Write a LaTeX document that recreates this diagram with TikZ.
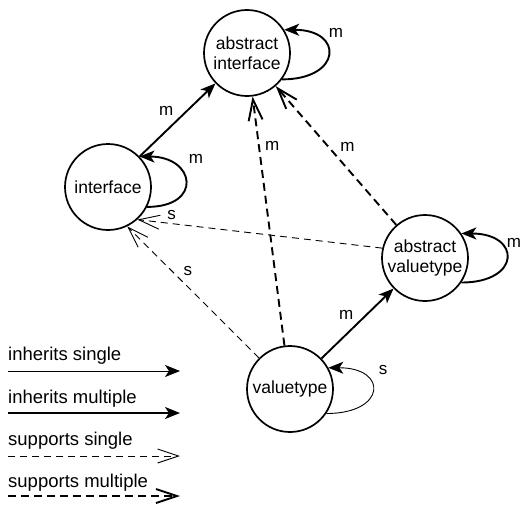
\documentclass[tikz,border=0pt]{standalone}
\usepackage{fontspec}
\setmainfont{Liberation Sans}
\usepackage{tikz}
\usetikzlibrary{arrows.meta}

\begin{document}
\begin{tikzpicture}[
 x=10pt, y=-10pt,
 kind/.style={draw, circle, line width=1.7pt, minimum size=86pt, inner sep=0pt,
 align=center, font=\fontsize{17.5}{20}\selectfont},
 lbl/.style={font=\fontsize{17}{18}\selectfont},
 leg/.style={anchor=base west, inner sep=0pt, font=\fontsize{18.5}{20}\selectfont},
 inhs/.style={-{Stealth[length=15pt, width=12pt, inset=4pt]}, line width=0.9pt},
 inhm/.style={-{Stealth[length=15pt, width=12pt, inset=4pt]}, line width=1.9pt},
 sups/.style={-{Straight Barb[length=21pt, width=14pt]}, line width=0.9pt,
 dash pattern=on 7pt off 5pt},
 supm/.style={-{Straight Barb[length=21pt, width=14pt]}, line width=1.9pt,
 dash pattern=on 8pt off 5pt}
]
\useasboundingbox (0,0) rectangle (52.1,50.7);

% Kinds
\node[kind] (ai) at (24.7,5.3) {abstract\\interface};
\node[kind] (itf) at (10.8,18.7) {interface};
\node[kind] (av) at (42.5,25.8) {abstract\\valuetype};
\node[kind] (vt) at (29.0,38.9) {valuetype};

% Self loops
\draw[inhm] (ai.-37) .. controls +(6,0) and +(6,0) .. (ai.32);
\node[lbl] at (33.6,3.3) {m};
\draw[inhm] (itf.-27) .. controls +(5.6,0) and +(5.6,0) .. (itf.44);
\node[lbl] at (19.6,15.9) {m};
\draw[inhm] (av.-34) .. controls +(6,0) and +(6,0) .. (av.34);
\node[lbl] at (51.4,24.3) {m};
\draw[inhs] (vt.-34) .. controls +(6,0) and +(6,0) .. (vt.29);
\node[lbl] at (38.3,37.0) {s};

% Inheritance and support
\draw[inhm] (itf) -- (ai) node[lbl, midway, above left] {m};
\draw[supm] (vt) -- (ai) node[lbl, pos=0.8, right=2pt] {m};
\draw[supm] (av) -- (ai) node[lbl, midway, above right] {m};
\draw[sups] (av.167) -- (itf.-48) node[lbl, pos=0.86, above] {s};
\draw[sups] (vt.135) -- (itf.-64) node[lbl, pos=0.6, above right] {s};
\draw[inhm] (vt) -- (av) node[lbl, midway, above left] {m};

% Legend
\node[leg] (l1) at (0.8,36.0) {inherits single};
\node[leg] (l2) at (0.8,40.3) {inherits multiple};
\node[leg] (l3) at (0.8,44.5) {supports single};
\node[leg] (l4) at (0.8,48.7) {supports multiple};
\coordinate (l1a) at (0.8,37.1); \coordinate (l1b) at (18.0,37.1);
\coordinate (l2a) at (0.8,41.3); \coordinate (l2b) at (18.0,41.3);
\coordinate (l3a) at (0.8,45.6); \coordinate (l3b) at (18.0,45.6);
\coordinate (l4a) at (0.8,49.6); \coordinate (l4b) at (18.0,49.6);
\draw[inhs] (l1a) -- (l1b);
\draw[inhm] (l2a) -- (l2b);
\draw[sups] (l3a) -- (l3b);
\draw[supm] (l4a) -- (l4b);
\end{tikzpicture}
\end{document}
